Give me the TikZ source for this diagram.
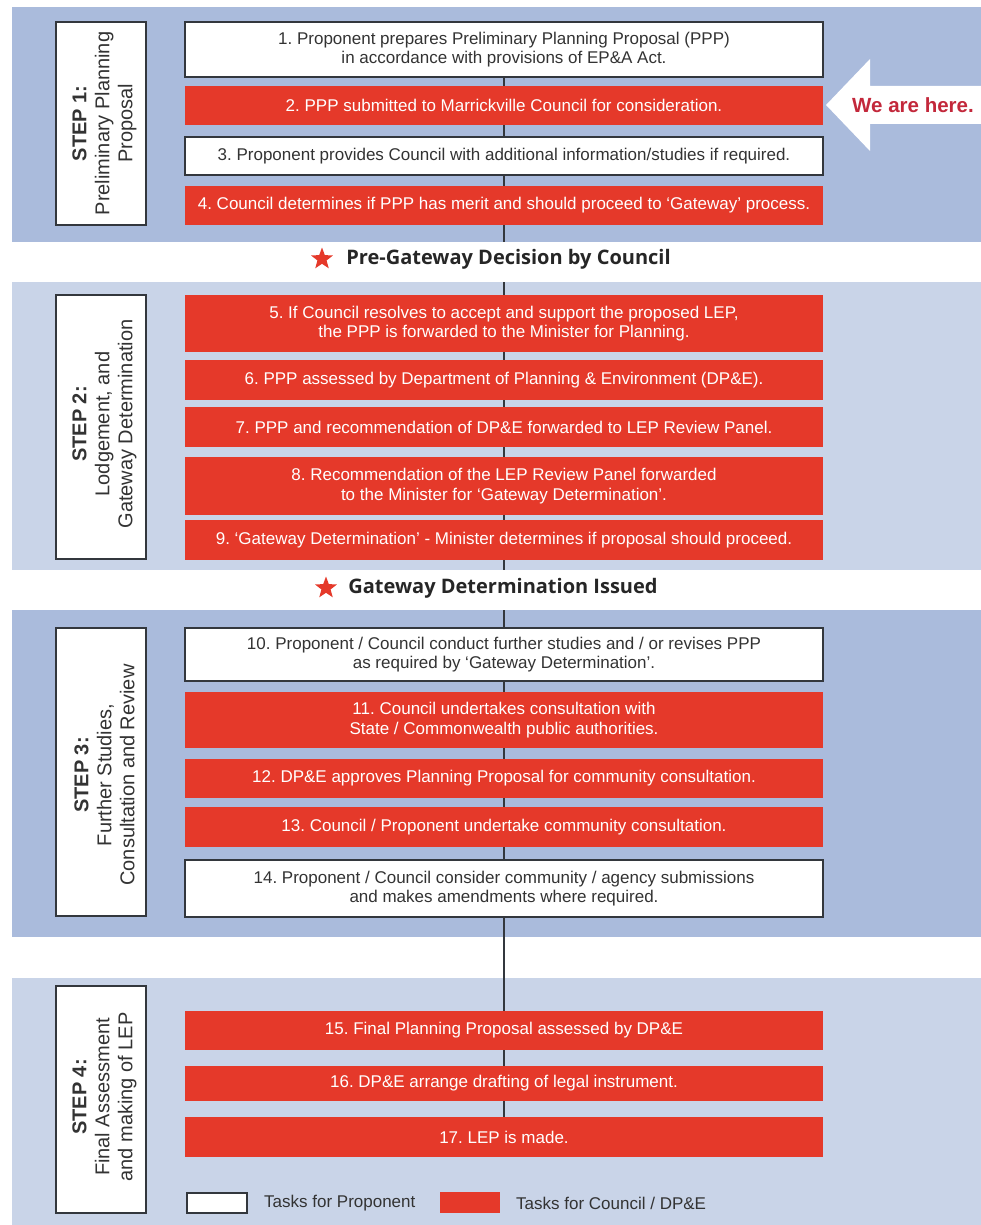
\documentclass[tikz,border=0pt]{standalone}
\usepackage{fontspec}
\setmainfont{Liberation Sans}
\newfontfamily\headfont{Open Sans}
\usetikzlibrary{shapes.geometric}
\definecolor{bandA}{HTML}{AABBDC}
\definecolor{bandB}{HTML}{C9D4E8}
\definecolor{taskred}{HTML}{E5392A}
\definecolor{edgegray}{HTML}{33373D}
\definecolor{txtgray}{HTML}{333333}
\definecolor{herered}{HTML}{C3283B}
\pgfdeclarelayer{bands}
\pgfdeclarelayer{lines}
\pgfsetlayers{bands,lines,main}
\frenchspacing
\tikzset{
  taskbase/.style={minimum width=638pt, inner sep=0pt, align=center, font=\fontsize{17}{19.5}\selectfont},
  whitetask/.style={taskbase, fill=white, draw=edgegray, line width=1.2pt, text=txtgray},
  redtask/.style={taskbase, fill=taskred, text=white},
  stepbox/.style={draw=edgegray, fill=white, line width=1.2pt, minimum width=90pt, inner sep=0pt},
  steptext/.style={rotate=90, inner sep=0pt, align=center, text=txtgray, font=\fontsize{20}{23}\selectfont},
  conn/.style={draw=edgegray, line width=1.1pt},
  strip/.style={fill=white, minimum width=981pt, minimum height=40pt, inner sep=0pt},
  headtext/.style={font=\headfont\bfseries\fontsize{20}{23}\selectfont, text=black!85, inner sep=0pt},
  redstar/.style={star, star points=5, star point ratio=2.4, fill=taskred, minimum size=23pt, inner sep=0pt},
  legtext/.style={anchor=west, inner sep=0pt, text=txtgray, font=\fontsize{17}{19}\selectfont}
}
\begin{document}
\begin{tikzpicture}[x=1pt,y=-1pt]
\useasboundingbox (0,0) rectangle (981,1225);
\begin{pgfonlayer}{bands}
\fill[white] (0,0) rectangle (981,1225);
\fill[bandA] (12,7) rectangle (981,242);
\fill[bandB] (12,282) rectangle (981,570);
\fill[bandA] (12,610) rectangle (981,937);
\fill[bandB] (12,978) rectangle (981,1225);
\end{pgfonlayer}

% step labels
\node[stepbox, minimum height=203pt] (s1) at (101,123.5) {};
\node[steptext] (s1t) at (104.5,123.5) {\textbf{STEP 1:}\\Preliminary Planning\\Proposal};
\node[stepbox, minimum height=264pt] (s2) at (101,427) {};
\node[steptext] (s2t) at (104.5,424) {\textbf{STEP 2:}\\Lodgement, and\\Gateway Determination};
\node[stepbox, minimum height=288pt] (s3) at (101,772) {};
\node[steptext] (s3t) at (104.5,775) {\textbf{STEP 3:}\\Further Studies,\\Consultation and Review};
\node[stepbox, minimum height=227pt] (s4) at (101,1099.5) {};
\node[steptext] (s4t) at (104.5,1097) {\textbf{STEP 4:}\\Final Assessment\\and making of LEP};

% tasks
\node[whitetask, minimum height=55pt] (b1) at (504,49.5) {1. Proponent prepares Preliminary Planning Proposal (PPP)\\in accordance with provisions of EP\&A Act.};
\node[redtask, minimum height=39pt] (b2) at (504,105.5) {2. PPP submitted to Marrickville Council for consideration.};
\node[whitetask, minimum height=38pt] (b3) at (504,156) {3. Proponent provides Council with additional information/studies if required.};
\node[redtask, minimum height=39pt] (b4) at (504,205.5) {4. Council determines if PPP has merit and should proceed to ‘Gateway’ process.};

\node[redtask, minimum height=57pt] (b5) at (504,323.5) {5. If Council resolves to accept and support the proposed LEP,\\the PPP is forwarded to the Minister for Planning.};
\node[redtask, minimum height=40pt] (b6) at (504,380) {6. PPP assessed by Department of Planning \& Environment (DP\&E).};
\node[redtask, minimum height=40pt] (b7) at (504,427) {7. PPP and recommendation of DP\&E forwarded to LEP Review Panel.};
\node[redtask, minimum height=58pt] (b8) at (504,486) {8. Recommendation of the LEP Review Panel forwarded\\to the Minister for ‘Gateway Determination’.};
\node[redtask, minimum height=40pt] (b9) at (504,540) {9. ‘Gateway Determination’ - Minister determines if proposal should proceed.};

\node[whitetask, minimum height=53pt] (b10) at (504,654.5) {10. Proponent / Council conduct further studies and / or revises PPP\\as required by ‘Gateway Determination’.};
\node[redtask, minimum height=56pt] (b11) at (504,720) {11. Council undertakes consultation with\\State / Commonwealth public authorities.};
\node[redtask, minimum height=39pt] (b12) at (504,778.5) {12. DP\&E approves Planning Proposal for community consultation.};
\node[redtask, minimum height=40pt] (b13) at (504,827) {13. Council / Proponent undertake community consultation.};
\node[whitetask, minimum height=57pt] (b14) at (504,888.5) {14. Proponent / Council consider community / agency submissions\\and makes amendments where required.};

\node[redtask, minimum height=39pt] (b15) at (504,1030.5) {15. Final Planning Proposal assessed by DP\&E};
\node[redtask, minimum height=35pt] (b16) at (504,1083.5) {16. DP\&E arrange drafting of legal instrument.};
\node[redtask, minimum height=40pt] (b17) at (504,1137) {17. LEP is made.};

% connectors
\begin{pgfonlayer}{lines}
\foreach \a/\b in {b1/b2,b2/b3,b3/b4,b4/b5,b5/b6,b6/b7,b7/b8,b8/b9,b9/b10,b10/b11,b11/b12,b12/b13,b13/b14,b14/b15,b15/b16,b16/b17}
  \draw[conn] (\a) -- (\b);
\end{pgfonlayer}

% decision strips
\node[strip, minimum height=40pt] (h1) at (490.5,262) {};
\node[headtext] (t1) at (508.5,259) {Pre-Gateway Decision by Council};
\node[redstar] (st1) at (322,259) {};
\node[strip, minimum height=40pt] (h2) at (490.5,590) {};
\node[headtext] (t2) at (503,588) {Gateway Determination Issued};
\node[redstar] (st2) at (326,588) {};

% we are here arrow
\fill[white] (826,105) -- (870,59) -- (870,86) -- (981,86) -- (981,124) -- (870,124) -- (870,151) -- cycle;
\node[text=herered, font=\bfseries\fontsize{20.5}{23}\selectfont, inner sep=0pt] (here) at (913,105) {We are here.};

% legend
\node[draw=edgegray, fill=white, line width=1.2pt, minimum width=60pt, minimum height=20pt, inner sep=0pt] (lw) at (217,1203) {};
\node[legtext] (lwt) at (264,1203) {Tasks for Proponent};
\node[fill=taskred, minimum width=60pt, minimum height=21pt, inner sep=0pt] (lr) at (470,1202.5) {};
\node[legtext] (lrt) at (516,1203) {Tasks for Council / DP\&E};
\end{tikzpicture}
\end{document}
